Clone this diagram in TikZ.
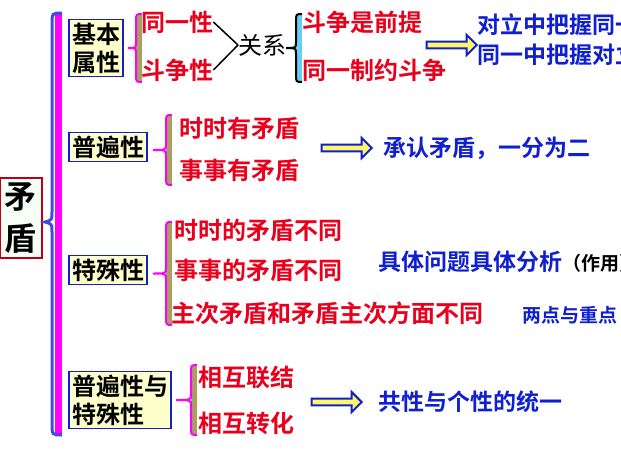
\documentclass[tikz,border=0pt]{standalone}
\usepackage{fontspec}
\newfontfamily\cjk{Noto Sans CJK SC}[BoldFont={Noto Sans CJK SC Bold}]
\usetikzlibrary{shapes.arrows,calc}
\definecolor{mdRed}{HTML}{E8001C}
\definecolor{mdBlue}{HTML}{1020D0}
\definecolor{mdBox}{HTML}{FFFFCC}
\definecolor{mdOlive}{HTML}{A8A060}
\definecolor{mdPink}{HTML}{FF00FF}
\tikzset{
  cat/.style={rectangle, draw=mdBlue, line width=1.5pt, fill=mdBox, font=\cjk\bfseries\fontsize{24}{28}\selectfont, align=left, inner sep=3pt},
  red/.style={anchor=west, text=mdRed, font=\cjk\bfseries\fontsize{24}{26}\selectfont, inner sep=0pt},
  blu/.style={anchor=west, text=mdBlue, font=\cjk\bfseries\fontsize{23}{30}\selectfont, inner sep=0pt, align=left},
  goto/.style={single arrow, draw=mdBlue, line width=2pt, fill=yellow!60, minimum width=20pt, single arrow head extend=2pt, minimum height=50pt, inner sep=0pt},
}
% brace opening to the right: tip x0, band x1, top, bottom, band colour, line colour
\newcommand{\mdbrace}[6]{%
  \fill[#5] ({#2-6},#3) rectangle (#2,#4);
  \draw[#6, line width=2pt] (#2,#3) .. controls ({#2-6},#3) .. ({#2-6},{#3+8})
    -- ({#2-6},{(#3+#4)/2-6}) .. controls ({#2-6},{(#3+#4)/2}) .. (#1,{(#3+#4)/2})
    .. controls ({#2-6},{(#3+#4)/2}) .. ({#2-6},{(#3+#4)/2+6})
    -- ({#2-6},{#4-8}) .. controls ({#2-6},#4) .. (#2,#4);}
\begin{document}
\begin{tikzpicture}[x=1pt,y=-1pt]
  \useasboundingbox[clip] (0,0) rectangle (621,453);
  \fill[white] (0,0) rectangle (621,453);
  % root
  \node[rectangle, draw=mdRed!80!black, line width=2pt, fill=green!4, font=\cjk\bfseries\fontsize{32}{42}\selectfont, align=center, inner sep=5pt] (root) at (21,218) {矛\\盾};
  % big brace
  \fill[mdPink] (55,13) rectangle (62,435);
  \draw[mdBlue!80, line width=3pt] (62,13) .. controls (52,13) .. (52,25) -- (52,212)
    .. controls (52,220) .. (45,222) .. controls (52,224) .. (52,232) -- (52,423) .. controls (52,435) .. (62,435);
  % categories
  \node[cat] (basic) at (96,48) {基本\\属性};
  \node[cat] (univ) at (108,147) {普遍性};
  \node[cat] (spec) at (108,270) {特殊性};
  \node[cat] (both) at (120,400) {普遍性与\\特殊性};
  % basic
  \mdbrace{128}{142}{14}{82}{mdOlive}{mdPink}
  \node[red] (same) at (141,22) {同一性};
  \node[red] (fight) at (141,70) {斗争性};
  \node[anchor=west, font=\cjk\fontsize{24}{26}\selectfont, inner sep=0pt] (rel) at (238,45) {关系};
  \draw[line width=1.5pt] (same.east) -- (rel.west);
  \draw[line width=1.5pt] (fight.east) -- (rel.west);
  \mdbrace{286}{302}{14}{82}{cyan!60}{black}
  \node[red] (prem) at (302,22) {斗争是前提};
  \node[red] (limit) at (302,70) {同一制约斗争};
  \node[goto] (a1) at (450,45) {};
  \node[blu] (grasp) at (477,40) {对立中把握同一\\同一中把握对立};
  % universal
  \mdbrace{153}{172}{115}{185}{mdOlive}{mdPink}
  \node[red] (u1) at (179,128) {时时有矛盾};
  \node[red] (u2) at (179,170) {事事有矛盾};
  \node[goto] (a2) at (345,148) {};
  \node[blu] (admit) at (383,148) {承认矛盾，一分为二};
  % special
  \mdbrace{153}{172}{222}{325}{mdOlive}{mdPink}
  \node[red] (s1) at (174,230) {时时的矛盾不同};
  \node[red] (s2) at (174,270) {事事的矛盾不同};
  \node[red] (s3) at (171,313) {主次矛盾和矛盾主次方面不同};
  \node[blu] (conc) at (378,262) {具体问题具体分析\textcolor{black}{\fontsize{19}{21}\selectfont（作用）}};
  \node[blu, font=\cjk\bfseries\fontsize{19}{22}\selectfont] (focus) at (522,315) {两点与重点};
  % both
  \mdbrace{176}{197}{365}{435}{mdOlive}{mdPink}
  \node[red] (b1) at (198,377) {相互联结};
  \node[red] (b2) at (198,423) {相互转化};
  \node[goto] (a3) at (335,402) {};
  \node[blu] (unity) at (378,402) {共性与个性的统一};
\end{tikzpicture}
\end{document}
